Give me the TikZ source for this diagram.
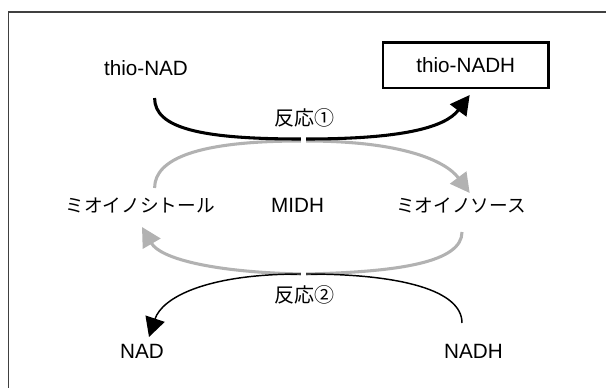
\documentclass[tikz,border=0pt]{standalone}
\usepackage{fontspec}
\setmainfont{Liberation Sans}
\newfontfamily\jpfont{Noto Sans CJK JP}
\usetikzlibrary{arrows.meta}
\begin{document}
\begin{tikzpicture}[x=0.75pt,y=-0.75pt,
  every node/.style={font=\fontsize{15.5}{18}\selectfont},
  jtxt/.style={font=\fontsize{15}{18}\selectfont\jpfont},
  kana/.style={font=\fontsize{14}{18}\selectfont\jpfont},
  blkarr/.style={line width=2.3pt,black},
  gryarr/.style={line width=2.3pt,black!30},
  thinarr/.style={line width=1.1pt,black},
  tip/.style={-{Triangle[length=14.5pt,width=15pt]}}]
\useasboundingbox (0,0) rectangle (606,388);
% frame
\draw[line width=1pt,black!75] (606,12) -- (8.5,12) -- (8.5,388);
% coenzymes
\node (tnad) at (146,68) {thio-NAD};
\node[draw,line width=1.8pt,minimum width=124pt,minimum height=34pt] (tnadh) at (465.8,65.3) {thio-NADH};
\node (nad) at (142,351.7) {NAD};
\node (nadh) at (473.5,351.7) {NADH};
% substrates
\node[kana] (mino) at (140,205) {ミオイノシトール};
\node (midh) at (297.6,205) {MIDH};
\node[kana] (minos) at (461,205) {ミオイノソース};
\node[jtxt] (r1) at (304,118) {反応①};
\node[jtxt] (r2) at (304,295) {反応②};
% curve ends
\coordinate (a1) at (154.6,98);
\coordinate (a2) at (469.7,95);
\coordinate (b1) at (154.6,188);
\coordinate (b2) at (469.7,193);
\coordinate (c1) at (462,232);
\coordinate (c2) at (142,227);
\coordinate (d1) at (462,323);
\coordinate (d2) at (149,337);
\coordinate (m1) at (303.5,139);
\coordinate (m2) at (303.5,141);
\coordinate (m3) at (303.5,274);
% reaction 1
\draw[gryarr] (b1) .. controls (154.6,158) and (200,141) .. ([xshift=-2]m2);
\draw[gryarr,tip] ([xshift=2]m2) .. controls (400,141) and (445,160) .. (b2);
\draw[blkarr] (a1) .. controls (154.6,128) and (200,139) .. ([xshift=-2]m1);
\draw[blkarr,tip] ([xshift=2]m1) .. controls (400,139) and (445,128) .. (a2);
% reaction 2
\draw[gryarr] (c1) .. controls (462,262) and (400,272) .. ([xshift=2]m3);
\draw[gryarr,tip] ([xshift=-2]m3) .. controls (210,272) and (160,258) .. (c2);
\draw[thinarr] (d1) .. controls (462,290) and (400,274) .. ([xshift=2]m3);
\draw[thinarr,tip] ([xshift=-2]m3) .. controls (205,274) and (162,298) .. (d2);
\end{tikzpicture}
\end{document}
